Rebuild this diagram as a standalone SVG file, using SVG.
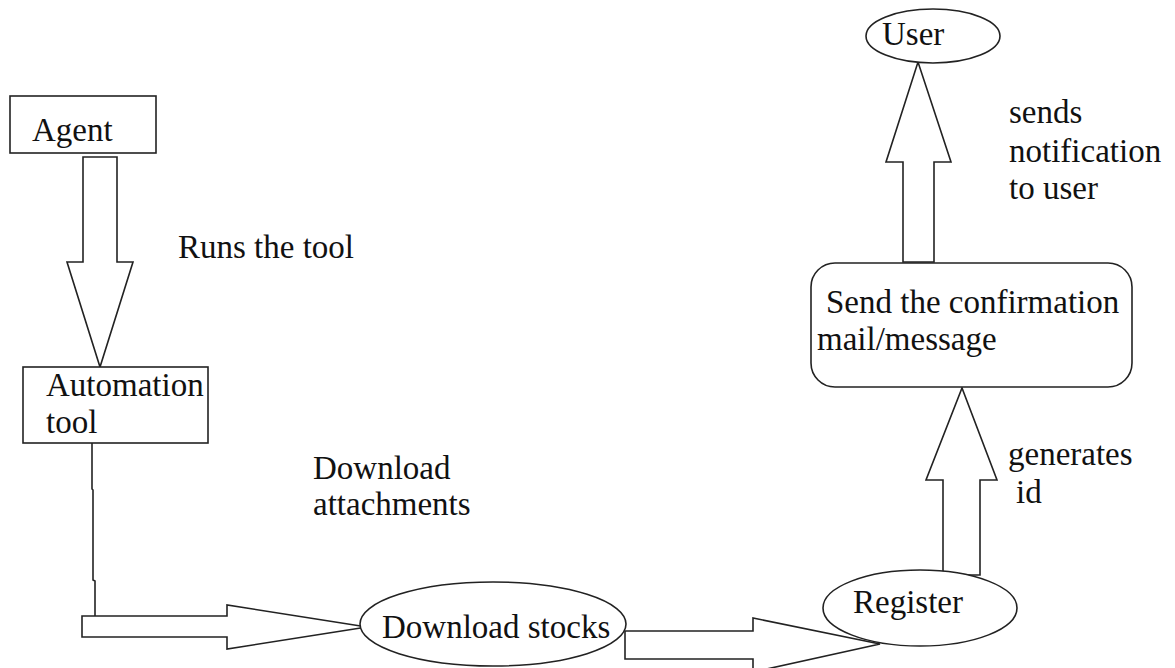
<svg xmlns="http://www.w3.org/2000/svg" width="1175" height="668" viewBox="0 0 1175 668">
<style>
.shape{fill:#fff;stroke:#222;stroke-width:1.6}
.line{fill:none;stroke:#222;stroke-width:1.6}
.arrow{fill:#fff;stroke:#222;stroke-width:1.6;stroke-linejoin:miter}
text{font-family:"Liberation Serif","Times New Roman",serif;font-size:33px;fill:#111}
</style>
<rect width="1175" height="668" fill="#fff"/>
<g id="connectors">
<polygon class="arrow" points="83,157 117,157 117,262 133,262 100,367 67,262 83,262"/>
<polyline class="line" points="92,443 92,489 93,490 93,580 95,581 95,625"/>
<polygon class="arrow" points="82,616 227,616 227,605 367,627 227,649 227,637 82,637"/>
<polygon class="arrow" points="625,631 753,631 753,618 880,644 753,672 753,659 625,659"/>
<polygon class="arrow" points="943,575 980,575 980,480 997,480 962,388 926,480 943,480"/>
<polygon class="arrow" points="903,262 934,262 934,162 951,162 918,62 886,162 903,162"/>
</g>
<g id="agent">
<rect class="shape" x="10" y="96" width="146" height="57"/>
<text x="32" y="141">Agent</text>
</g>
<g id="automation-tool">
<rect class="shape" x="23" y="367" width="185" height="76"/>
<text x="46" y="396">Automation</text>
<text x="46" y="433">tool</text>
</g>
<g id="download-stocks">
<ellipse class="shape" cx="493" cy="624" rx="133" ry="42"/>
<text x="382" y="638">Download stocks</text>
</g>
<g id="register">
<ellipse class="shape" cx="920" cy="608" rx="97" ry="38"/>
<text x="853" y="613">Register</text>
</g>
<g id="send-confirmation">
<rect class="shape" x="811" y="263" width="321" height="124" rx="24" ry="24"/>
<text x="826" y="313">Send the confirmation</text>
<text x="817" y="350">mail/message</text>
</g>
<g id="user">
<ellipse class="shape" cx="933" cy="36" rx="67" ry="27"/>
<text x="882" y="45">User</text>
</g>
<g id="labels">
<text x="178" y="258">Runs the tool</text>
<text x="313" y="479">Download</text>
<text x="313" y="515">attachments</text>
<text x="1008" y="465">generates</text>
<text x="1016" y="503">id</text>
<text x="1009" y="123">sends</text>
<text x="1009" y="162">notification</text>
<text x="1009" y="199">to user</text>
</g>
</svg>
